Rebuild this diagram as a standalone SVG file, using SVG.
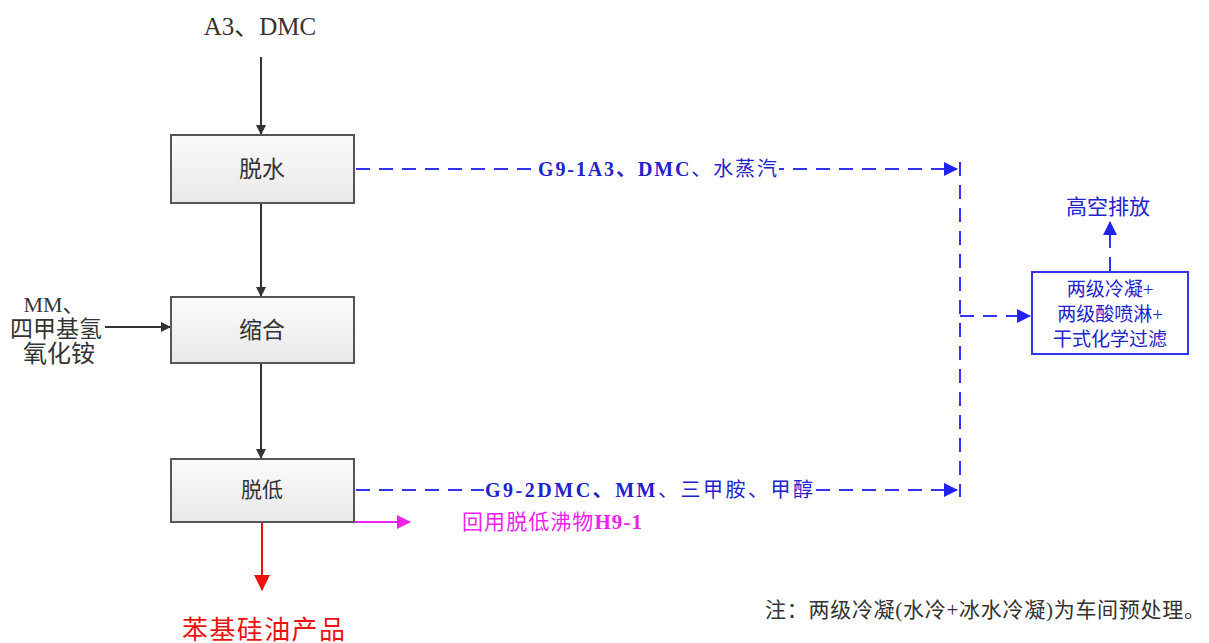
<svg xmlns="http://www.w3.org/2000/svg" width="1209" height="643" viewBox="0 0 1209 643">
<style>
text{font-family:"Liberation Serif","Noto Sans CJK SC",serif;}
.box{stroke:#555;stroke-width:2;fill:url(#g)}
.k{fill:#333}
.blk{stroke:#333;stroke-width:2;fill:none}
.bl{stroke:#3333ee;stroke-width:2;fill:none;stroke-dasharray:14,9}
.bt{fill:#2222cc}
</style>
<defs>
<linearGradient id="g" x1="0" y1="0" x2="0" y2="1"><stop offset="0" stop-color="#fbfbfb"/><stop offset="1" stop-color="#e8e8e8"/></linearGradient>
<marker id="ak" markerWidth="10" markerHeight="10" refX="9" refY="5" orient="auto" markerUnits="userSpaceOnUse" viewBox="0 0 10 10"><path d="M0,0 L10,5 L0,10 z" fill="#333"/></marker>
<marker id="ab" markerWidth="14" markerHeight="14" refX="13" refY="7" orient="auto" markerUnits="userSpaceOnUse" viewBox="0 0 14 14"><path d="M0,0 L14,7 L0,14 z" fill="#2222ee"/></marker>
<marker id="ar" markerWidth="16" markerHeight="16" refX="15" refY="8" orient="auto" markerUnits="userSpaceOnUse" viewBox="0 0 16 16"><path d="M0,0 L16,8 L0,16 z" fill="#ee1111"/></marker>
<marker id="am" markerWidth="14" markerHeight="14" refX="13" refY="7" orient="auto" markerUnits="userSpaceOnUse" viewBox="0 0 14 14"><path d="M0,0 L14,7 L0,14 z" fill="#ee22ee"/></marker>
</defs>
<rect width="1209" height="643" fill="#fff"/>
<g id="connectors">
<line class="blk" x1="261" y1="57" x2="261" y2="134" marker-end="url(#ak)"/>
<line class="blk" x1="261" y1="203" x2="261" y2="296" marker-end="url(#ak)"/>
<line class="blk" x1="261" y1="363" x2="261" y2="458" marker-end="url(#ak)"/>
<line class="blk" x1="105" y1="327" x2="170" y2="327" marker-end="url(#ak)"/>
<line x1="262" y1="522" x2="262" y2="590" stroke="#ee1111" stroke-width="2" marker-end="url(#ar)"/>
<line x1="354" y1="522" x2="410" y2="522" stroke="#ee22ee" stroke-width="2" marker-end="url(#am)"/>
<line class="bl" x1="356" y1="169" x2="957" y2="169" marker-end="url(#ab)"/>
<line class="bl" x1="356" y1="490" x2="957" y2="490" marker-end="url(#ab)"/>
<line class="bl" x1="960" y1="162" x2="960" y2="497"/>
<line class="bl" x1="960" y1="316" x2="1030" y2="316" stroke-dasharray="12,8" marker-end="url(#ab)"/>
<line class="bl" x1="1110" y1="271" x2="1110" y2="222" stroke-dasharray="12,6" marker-end="url(#ab)"/>
<rect x="536" y="155" width="243" height="28" fill="#fff"/>
<rect x="484" y="476" width="331" height="28" fill="#fff"/>
<text x="538" y="176" class="bt" font-size="20" textLength="239" lengthAdjust="spacing"><tspan font-weight="bold">G9-1A3、DMC</tspan>、水蒸汽</text>
<text x="485" y="497" class="bt" font-size="20" textLength="328" lengthAdjust="spacing"><tspan font-weight="bold">G9-2DMC、MM</tspan>、三甲胺、甲醇</text>
<text x="462" y="529" font-size="21" fill="#ee22ee" textLength="180" lengthAdjust="spacing">回用脱低沸物<tspan font-weight="bold">H9-1</tspan></text>
</g>
<g id="input-top"><text x="260" y="35" text-anchor="middle" class="k" font-size="25">A3、DMC</text></g>
<g id="input-left">
<text x="54" y="312" text-anchor="middle" class="k" font-size="22">MM、</text>
<text x="56" y="337" text-anchor="middle" class="k" font-size="23">四甲基氢</text>
<text x="59" y="362" text-anchor="middle" class="k" font-size="24">氧化铵</text>
</g>
<g id="n1"><rect class="box" x="171" y="135" width="183" height="68"/><text x="262" y="177" text-anchor="middle" class="k" font-size="23">脱水</text></g>
<g id="n2"><rect class="box" x="171" y="297" width="183" height="66"/><text x="262" y="338" text-anchor="middle" class="k" font-size="23">缩合</text></g>
<g id="n3"><rect class="box" x="171" y="459" width="183" height="63"/><text x="262" y="497" text-anchor="middle" class="k" font-size="21">脱低</text></g>
<g id="product"><text x="182" y="639" font-size="26" fill="#ee1111" textLength="163" lengthAdjust="spacing">苯基硅油产品</text></g>
<g id="treat"><rect x="1032" y="272" width="156" height="82" fill="#fff" stroke="#3333ee" stroke-width="2"/>
<text x="1110" y="296" text-anchor="middle" class="bt" font-size="19">两级冷凝+</text>
<text x="1110" y="321" text-anchor="middle" class="bt" font-size="19">两级酸喷淋+</text>
<text x="1110" y="346" text-anchor="middle" class="bt" font-size="19">干式化学过滤</text></g>
<g id="exhaust"><text x="1108" y="214" text-anchor="middle" class="bt" font-size="21">高空排放</text></g>
<g id="note"><text x="765" y="617" font-size="21" fill="#333" textLength="440" lengthAdjust="spacing">注：两级冷凝(水冷+冰水冷凝)为车间预处理。</text></g>
</svg>
